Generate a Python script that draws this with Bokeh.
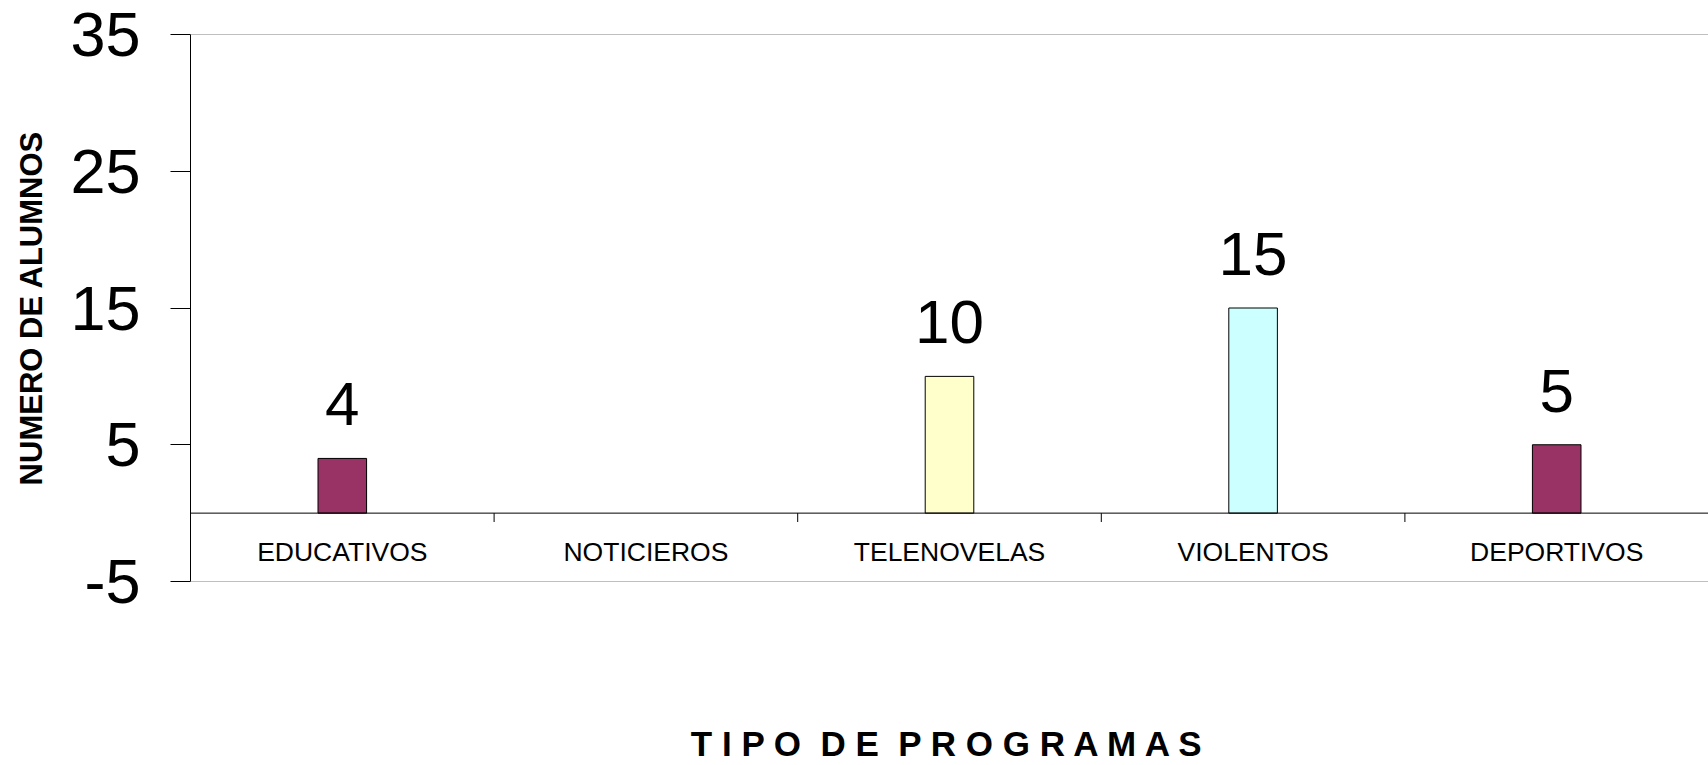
from bokeh.plotting import figure
from bokeh.models import Span, FixedTicker, ColumnDataSource
from bokeh.core.properties import value
from bokeh.embed import file_html
from bokeh.resources import INLINE

# ---- data ----
categories = ["EDUCATIVOS", "NOTICIEROS", "TELENOVELAS", "VIOLENTOS", "DEPORTIVOS"]
alumnos = [4, 0, 10, 15, 5]
bar_colors = ["#993366", "#FFFFFF", "#FFFFCC", "#CCFFFF", "#993366"]
y_ticks = [35, 25, 15, 5, -5]
y_title = "NUMERO DE ALUMNOS"
x_title = "T I P O \u00a0D E \u00a0P R O G R A M A S"

FONT = "Liberation Sans"
y_min, y_max = -5, 35
n = len(categories)
centers = [i + 0.5 for i in range(n)]
bounds = list(range(1, n))

p = figure(width=1708, height=765, x_range=(0, n), y_range=(y_min, y_max),
           output_backend="svg", toolbar_location=None,
           min_border_left=190, min_border_right=0, min_border_top=34,
           min_border_bottom=182)
p.outline_line_color = None
p.grid.visible = False
p.background_fill_color = "white"
p.border_fill_color = "white"

# bars (zero values draw nothing)
shown = [i for i, v in enumerate(alumnos) if v > 0]
src = ColumnDataSource(dict(
    x=[centers[i] for i in shown],
    top=[alumnos[i] for i in shown],
    color=[bar_colors[i] for i in shown],
    label=[str(alumnos[i]) for i in shown],
))
p.vbar(x="x", top="top", bottom=0, width=0.16, fill_color="color",
       line_color="black", line_width=1, source=src)
p.text(x="x", y="top", text="label", text_align="center",
       text_baseline="middle", y_offset=-54, text_font=value(FONT),
       text_font_size="62px", text_color="black", source=src)

# frame lines
p.add_layout(Span(location=y_max, dimension="width", line_color="#808080", line_width=1))
p.add_layout(Span(location=y_min, dimension="width", line_color="#808080", line_width=1))
p.add_layout(Span(location=0, dimension="width", line_color="black", line_width=1))

# category ticks and labels along the zero line
tick_len = 0.65
p.segment(x0=bounds, y0=[0] * len(bounds), x1=bounds, y1=[-tick_len] * len(bounds),
          line_color="black", line_width=1)
p.text(x=centers, y=[0] * n, text=categories, text_align="center",
       text_baseline="middle", y_offset=39, text_font=value(FONT),
       text_font_size="26.5px", text_color="black")

# y axis
ya = p.yaxis[0]
ya.ticker = FixedTicker(ticks=y_ticks)
ya.major_label_overrides = {t: str(t) for t in y_ticks}
ya.major_tick_out = 20
ya.major_tick_in = 0
ya.minor_tick_out = 0
ya.minor_tick_in = 0
ya.axis_line_color = "black"
ya.major_tick_line_color = "black"
ya.major_label_standoff = 30
ya.major_label_text_font = FONT
ya.major_label_text_font_size = "63px"
ya.major_label_text_color = "black"
ya.axis_label = y_title
ya.axis_label_text_font = FONT
ya.axis_label_text_font_style = "bold"
ya.axis_label_text_font_size = "31px"
ya.axis_label_text_color = "black"
ya.axis_label_standoff = 18

# x axis (title only)
xa = p.xaxis[0]
xa.ticker = FixedTicker(ticks=[])
xa.axis_line_color = None
xa.major_tick_out = 0
xa.major_tick_in = 0
xa.minor_tick_out = 0
xa.minor_tick_in = 0
xa.major_label_standoff = 0
xa.axis_label = x_title
xa.axis_label_text_font = FONT
xa.axis_label_text_font_style = "bold"
xa.axis_label_text_font_size = "35px"
xa.axis_label_text_color = "black"
xa.axis_label_standoff = 142

open("out.html", "w").write(file_html(p, INLINE))
